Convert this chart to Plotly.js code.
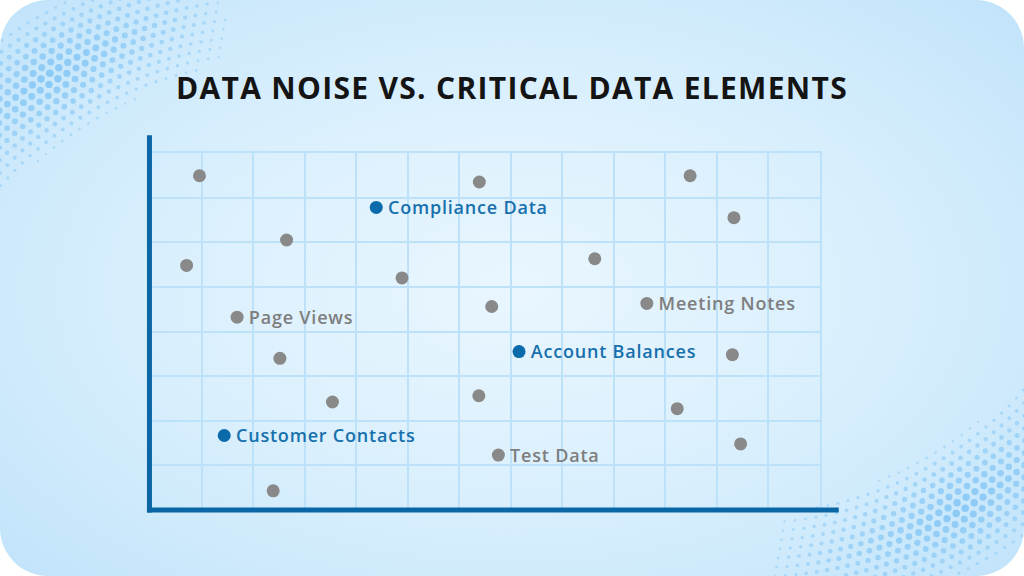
<!DOCTYPE html>
<html>
<head>
<meta charset="utf-8">
<script src="https://cdn.plot.ly/plotly-3.0.1.min.js"></script>
<style>
  html, body { margin:0; padding:0; background:#ffffff; width:1024px; height:576px; overflow:hidden; }
  #card { position:absolute; left:0; top:0; width:1024px; height:576px; border-radius:48px; overflow:hidden;
    background: radial-gradient(ellipse 70% 75% at 50% 50%, #e9f6fe 0%, #dbf0fd 45%, #cae8fb 80%, #bfe2fa 100%); }
  #deco { position:absolute; left:0; top:0; }
  #chart { position:absolute; left:0; top:0; width:1024px; height:576px; }
  #chart .gtitle { letter-spacing: 1.3px; }
  #chart .textpoint text { letter-spacing: 0.8px; transform: translateY(2px); }
</style>
</head>
<body>
<div id="card"><svg id="deco" width="1024" height="576"></svg></div>
<div id="chart"></div>
<script>
// ---- data ----
const noiseX = [0.96, 6.39, 10.48, 11.33, 2.65, 0.71, 4.89, 8.63, 6.63, 1.69, 9.64, 2.52, 11.30, 3.54, 6.38, 10.23, 11.46, 6.76, 2.39];
const noiseY = [7.49, 7.35, 7.49, 6.55, 6.05, 5.48, 5.20, 5.63, 4.56, 4.32, 4.63, 3.40, 3.48, 2.42, 2.56, 2.27, 1.48, 1.23, 0.43];
const noiseLabels = ["", "", "", "", "", "", "", "", "", "Page Views", "Meeting Notes", "", "", "", "", "", "", "Test Data", ""];
const criticalX = [4.39, 7.16, 1.44];
const criticalY = [6.78, 3.55, 1.67];
const criticalLabels = ["Compliance Data", "Account Balances", "Customer Contacts"];
const chartTitle = "DATA NOISE VS. CRITICAL DATA ELEMENTS";

// ---- decorative halftone corners ----
(function(){
  const svg = document.getElementById('deco');
  const ns = 'http://www.w3.org/2000/svg';
  function band(cx, cy, r0, halfW, a0, a1, aPeak, aSpread) {
    for (let r = r0 - halfW; r <= r0 + halfW; r += 9) {
      const radial = Math.max(0, 1 - Math.abs(r - r0) / (halfW + 4));
      const step = 10.5 / r;
      const off = ((Math.round((r - r0) / 9) % 2) ? step / 2 : 0);
      for (let a = a0 + off; a <= a1; a += step) {
        const ang = Math.max(0, 1 - Math.abs(a - aPeak) / aSpread);
        const s = radial * ang;
        if (s <= 0.04) continue;
        const x = cx + r * Math.cos(a), y = cy + r * Math.sin(a);
        if (x < -5 || x > 1030 || y < -5 || y > 580) continue;
        const c = document.createElementNS(ns, 'circle');
        c.setAttribute('cx', x.toFixed(1));
        c.setAttribute('cy', y.toFixed(1));
        c.setAttribute('r', (0.5 + 3.4 * Math.sqrt(s)).toFixed(2));
        c.setAttribute('fill', '#86c7f5');
        c.setAttribute('fill-opacity', (0.45 + 0.5 * s).toFixed(2));
        svg.appendChild(c);
      }
    }
  }
  // top-left
  band(274, 426, 415, 60, Math.PI * 1.0, Math.PI * 1.62, Math.PI * 1.32, Math.PI * 0.15);
  // bottom-right
  band(750, 150, 415, 60, Math.PI * 0.0, Math.PI * 0.62, Math.PI * 0.33, Math.PI * 0.16);
})();

// ---- chart ----
const gridColor = '#bde1f8';
const axisColor = '#0b66a6';
const pad = s => '\u200A' + s;
const traces = [
  {
    type: 'scatter', mode: 'markers+text',
    x: noiseX, y: noiseY, text: noiseLabels.map(s => s ? pad(s) : ''),
    textposition: 'middle right',
    marker: { size: 13, color: '#898989' },
    textfont: { family: 'Open Sans', size: 18, color: '#7e7e7e', weight: 600 },
    hoverinfo: 'skip', cliponaxis: false
  },
  {
    type: 'scatter', mode: 'markers+text',
    x: criticalX, y: criticalY, text: criticalLabels.map(pad),
    textposition: 'middle right',
    marker: { size: 13, color: '#0b6aaa' },
    textfont: { family: 'Open Sans', size: 18, color: '#1670ad', weight: 600 },
    hoverinfo: 'skip', cliponaxis: false
  }
];
const layout = {
  width: 1024, height: 576,
  margin: { l: 150, r: 204, t: 153, b: 66, pad: 0 },
  paper_bgcolor: 'rgba(0,0,0,0)', plot_bgcolor: 'rgba(0,0,0,0)',
  showlegend: false,
  title: { text: '<b>' + chartTitle + '</b>', x: 0.5, xanchor: 'center', y: 0.847, yanchor: 'middle',
    font: { family: 'Open Sans', size: 30, color: '#141414' } },
  xaxis: { range: [0, 13], dtick: 1, tick0: 0, showgrid: true, gridcolor: gridColor, gridwidth: 2,
    showticklabels: false, ticks: '', zeroline: false, showline: true, linecolor: gridColor, linewidth: 2, mirror: true, fixedrange: true },
  yaxis: { range: [0, 8], dtick: 1, tick0: 0, showgrid: true, gridcolor: gridColor, gridwidth: 2,
    showticklabels: false, ticks: '', zeroline: false, showline: true, linecolor: gridColor, linewidth: 2, mirror: true, fixedrange: true },
  shapes: [
    { type: 'line', xref: 'paper', yref: 'paper', x0: -0.0008, x1: -0.0008, y0: -0.007, y1: 1.05,
      line: { color: axisColor, width: 5 }, layer: 'above' },
    { type: 'line', xref: 'paper', yref: 'paper', x0: -0.0045, x1: 1.028, y0: 0.0, y1: 0.0,
      line: { color: axisColor, width: 5 }, layer: 'above' }
  ]
};
Plotly.newPlot('chart', traces, layout, { staticPlot: true, displayModeBar: false });
</script>
</body>
</html>
